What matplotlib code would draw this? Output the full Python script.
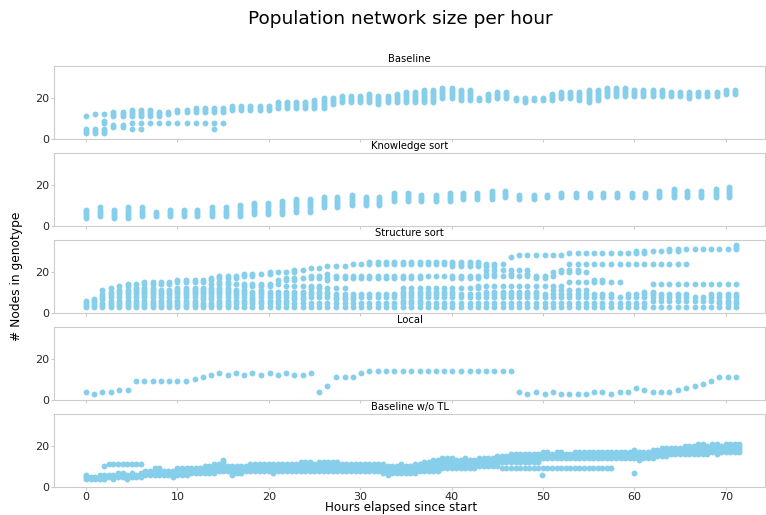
import numpy as np
import matplotlib
matplotlib.use('Agg')
import matplotlib.pyplot as plt

# Baseline: one sample per hour, node counts per hour as "lo-hi" runs
baseline_hours = list(range(72))
baseline_cols = [
    "3-5,11", "3-5,12", "3-5,8-9,12", "6-7,11-13", "6-7,11-13", "5,8,11-14",
    "5,8,11-14", "8,11-14", "8,11-13", "8,12-13", "8,13-14", "8,13-14",
    "8,13-15", "8,13-15", "5,8,13-15", "8,13-15", "14-16", "14-16",
    "14-16", "14-16", "14-16", "15-18", "15-18", "15-18",
    "15-18", "15-19", "15-20", "17-20", "18-21", "18-21",
    "18-21", "18-22", "17-21", "18-21", "18-22", "18-23",
    "18-23", "18-24", "18-24", "20-25", "20-25", "19-24",
    "19-24", "19-20", "19-22", "20-23", "20-23", "19-20",
    "18-20", "19-20", "19-20", "19-22", "20-23", "20-23",
    "19-23", "18-24", "19-24", "21-25", "21-25", "21-25",
    "21-24", "21-24", "21-24", "21-24", "21-23", "21-23",
    "20-23", "21-23", "21-23", "21-23", "22-24", "22-24",
]

# Knowledge sort: samples roughly every 1.5 hours
knowledge_hours = [
    0.0, 1.5, 3.1, 4.6, 6.1, 7.7, 9.2, 10.7, 12.2, 13.8, 15.3, 16.8,
    18.4, 19.9, 21.4, 23.0, 24.5, 26.0, 27.5, 29.1, 30.6, 32.1, 33.7, 35.2,
    36.7, 38.3, 39.8, 41.3, 42.8, 44.4, 45.9, 47.4, 49.0, 50.5, 52.0, 53.6,
    55.1, 56.6, 58.1, 59.7, 61.2, 62.7, 64.3, 65.8, 67.3, 68.9, 70.4,
]
knowledge_cols = [
    "4-8", "5-9", "4-8", "4-9", "5-9", "5-7", "5-8", "5-8", "5-8", "5-9",
    "5-9", "5-10", "6-11", "6-11", "6-12", "7-13", "7-13", "9-14", "9-14", "10-15",
    "10-14", "10-14", "12-16", "12-16", "12-15", "12-15", "12-16", "13-16", "13-16", "13-17",
    "14-17", "13-15", "13-15", "14-15", "14-16", "14-16", "14-16", "14-16", "14-16", "14-16",
    "14-16", "14-17", "14-18", "14-17", "14-17", "14-18", "14-19",
]

# Structure sort and Local share the same ~55 minute sampling
fine_hours = [
    0.0, 0.9, 1.8, 2.7, 3.6, 4.6, 5.5, 6.4, 7.3, 8.2, 9.1, 10.0, 10.9,
    11.9, 12.8, 13.7, 14.6, 15.5, 16.4, 17.3, 18.2, 19.2, 20.1, 21.0, 21.9,
    22.8, 23.7, 24.6, 25.5, 26.4, 27.4, 28.3, 29.2, 30.1, 31.0, 31.9, 32.8,
    33.7, 34.7, 35.6, 36.5, 37.4, 38.3, 39.2, 40.1, 41.0, 42.0, 42.9, 43.8,
    44.7, 45.6, 46.5, 47.4, 48.3, 49.2, 50.2, 51.1, 52.0, 52.9, 53.8, 54.7,
    55.6, 56.5, 57.5, 58.4, 59.3, 60.2, 61.1, 62.0, 62.9, 63.8, 64.8, 65.7,
    66.6, 67.5, 68.4, 69.3, 70.2, 71.1,
]
structure_cols = [
    "3-6", "3-7", "3-5,7-9,11", "3-6,8-10,12", "3-6,8-11,13", "3-6,8-11,13-14",
    "3-6,8-12,14", "3-6,8-12,14-15", "3-6,8-12,14-15", "3-6,8-11,14-15",
    "3-6,8-11,14-15", "3-6,8-12,15-16", "3-6,8-12,15-16", "3-6,8-12,15-16",
    "3-5,7-12,15-16", "3-5,7-12,14,16-17", "3-6,8-12,14-15,17-18",
    "3-6,8-12,14-15,17-18", "3,5-6,8-11,14,17-18", "3,5-6,8-11,13-14,18-19",
    "3,5-10,13-14,18-19", "3,5-6,8-11,13-14,19", "3,5-6,8-10,13-14,19-20",
    "3,5-6,8-10,14,16,20", "3,5-6,8-10,13,16-17,20", "3,5,7-10,13,16-17,20-21",
    "3,5,7-10,13,17,21", "3,5,8-10,12-13,17-18,22", "3,5,8-10,12-13,17-18,22",
    "3,5,8-10,12,16-17,19,23", "3,5,7-9,12,17-18,23", "3,5,7-9,12,17-18,23",
    "3,5,7-9,17-18,24", "3,5,8-9,17-18,24", "3,5,8-9,17-18,24-25",
    "3,5,8-9,17-18,24-25", "3,5,8-9,17-18,24-25", "3,5,8-9,17-18,24-25",
    "3,5-6,8-10,12,17-18,24-25", "3,5-6,8-10,12,17-18,24-25", "3,5-6,8-10,12,17-18,24-25",
    "3,5,8-10,12,18,24-25", "3,5,8-10,12,18,24-25", "3,5,8-10,12,18,24-25",
    "3,5,8-10,12,17-18,23-25", "3,5,8-9,12,17-18,23-25", "3,5,8-9,12,17-18,23-25",
    "3,5,8-9,12-13,17-18,23-25", "3,5,8-10,13,18-19,21,23-24", "3,5,8-10,13,18-19,21,23-24",
    "3,5,8-10,13,18,21,24", "3,5,8-10,13,18-19,21,27", "3,5,8-10,13,18,21,28",
    "3,5,8-10,13,18-19,21,28", "3,5,8-10,13,17-18,28", "3,5,8-9,13,17-18,28",
    "3,5,8-9,11,13,18,20,28", "3,5,8-9,11,13,20-21,28", "3,5,8-9,11,15,20-21,24,29",
    "3,5,8-9,11,15,20-21,24,29", "3,5,8-9,11,15,20,24,29", "3,5,8-9,15-16,24,29",
    "3,5,8-9,15-16,24,29", "3,5,8-9,15,24,29", "3,5,8,15,24,29",
    "3,5,8-9,24,29", "3,5,8-9,24,29-30", "3,5,8-10,24,29-30",
    "3,6,8-10,14,24,30", "3,6,8-9,14,24,30", "3,6,8-9,14,24,30-31",
    "3,6,8-9,14,24,30-31", "3,6,8-9,14,24,31", "3,6,8,14,31",
    "3,6,8,14,31", "3,6,8-9,14,31", "3,5-6,8-9,14,31",
    "3,5-6,8-9,14,31", "3,5-6,8-9,14,31-33",
]
local_nodes = [
    4, 3, 4, 4, 5, 5, 9, 9, 9, 9, 9, 9, 9, 10, 11, 12, 13, 12, 13, 12,
    13, 12, 13, 12, 13, 12, 12, 13, 4, 7, 11, 11, 11, 13, 14, 14, 14, 14, 14, 14,
    14, 14, 14, 14, 14, 14, 14, 14, 14, 14, 14, 14, 4, 3, 4, 3, 4, 3, 3, 3,
    3, 4, 4, 3, 4, 4, 6, 5, 4, 4, 4, 5, 6, 7, 8, 9, 11, 11, 11,
]

# Baseline w/o TL: half-hourly band (lowest / highest network size)
notl_hours = [
    0.0, 0.5, 1.0, 1.5, 2.0, 2.5, 3.0, 3.5, 4.0, 4.5, 5.0, 5.5, 6.0, 6.5, 7.0, 7.5,
    8.0, 8.5, 9.0, 9.5, 10.0, 10.5, 11.0, 11.5, 12.0, 12.5, 13.0, 13.5, 14.0, 14.5, 15.0, 15.5,
    16.0, 16.5, 17.0, 17.5, 18.0, 18.5, 19.0, 19.5, 20.0, 20.5, 21.0, 21.5, 22.0, 22.5, 23.0, 23.5,
    24.0, 24.5, 25.0, 25.5, 26.0, 26.5, 27.0, 27.5, 28.0, 28.5, 29.0, 29.5, 30.0, 30.5, 31.0, 31.5,
    32.0, 32.5, 33.0, 33.5, 34.0, 34.5, 35.0, 35.5, 36.0, 36.5, 37.0, 37.5, 38.0, 38.5, 39.0, 39.5,
    40.0, 40.5, 41.0, 41.5, 42.0, 42.5, 43.0, 43.5, 44.0, 44.5, 45.0, 45.5, 46.0, 46.5, 47.0, 47.5,
    48.0, 48.5, 49.0, 49.5, 50.0, 50.5, 51.0, 51.5, 52.0, 52.5, 53.0, 53.5, 54.0, 54.5, 55.0, 55.5,
    56.0, 56.5, 57.0, 57.5, 58.0, 58.5, 59.0, 59.5, 60.0, 60.5, 61.0, 61.5, 62.0, 62.5, 63.0, 63.5,
    64.0, 64.5, 65.0, 65.5, 66.0, 66.5, 67.0, 67.5, 68.0, 68.5, 69.0, 69.5, 70.0, 70.5, 71.0, 71.5,
]
notl_low = [
    4, 4, 4, 4, 4, 5, 4, 5, 5, 4, 5, 5, 5, 6, 6, 6,
    6, 6, 6, 5, 6, 6, 6, 7, 7, 7, 7, 7, 7, 8, 8, 8,
    6, 7, 7, 8, 8, 8, 8, 8, 8, 7, 8, 8, 8, 8, 8, 8,
    8, 8, 8, 8, 8, 8, 8, 8, 8, 8, 8, 8, 8, 8, 8, 8,
    8, 7, 6, 7, 7, 7, 7, 7, 7, 8, 8, 8, 8, 8, 9, 9,
    9, 9, 9, 9, 9, 9, 10, 10, 10, 10, 10, 12, 12, 12, 12, 12,
    12, 12, 12, 12, 14, 14, 14, 14, 14, 14, 14, 14, 14, 14, 14, 14,
    14, 14, 14, 14, 14, 14, 14, 14, 14, 13, 14, 14, 14, 15, 15, 15,
    16, 16, 16, 16, 16, 16, 16, 16, 16, 17, 16, 17, 17, 17, 17, 17,
]
notl_high = [
    6, 5, 5, 6, 6, 6, 6, 7, 7, 6, 7, 6, 7, 8, 8, 9,
    9, 8, 8, 8, 9, 9, 9, 9, 9, 9, 10, 10, 11, 11, 13, 10,
    10, 10, 10, 10, 11, 11, 11, 11, 11, 11, 11, 11, 11, 11, 11, 12,
    12, 12, 11, 12, 12, 12, 12, 12, 11, 11, 11, 11, 11, 11, 11, 11,
    11, 11, 10, 10, 10, 11, 10, 10, 11, 11, 12, 12, 13, 13, 14, 14,
    14, 13, 13, 14, 13, 13, 14, 14, 14, 14, 15, 15, 15, 16, 16, 16,
    16, 16, 16, 16, 17, 17, 16, 17, 17, 16, 16, 17, 17, 17, 17, 17,
    17, 17, 17, 17, 17, 17, 17, 17, 18, 17, 17, 17, 18, 18, 19, 19,
    19, 19, 19, 20, 20, 20, 21, 21, 20, 21, 21, 20, 21, 21, 21, 21,
]
# detached runs and stragglers outside the main band
notl_extra_hours = [2.0, 2.5, 3.0, 3.5, 4.0, 4.5, 5.0, 5.5, 6.0,
                    45.5, 46.0, 46.5, 47.0, 47.5, 48.0, 48.5, 49.0, 49.5, 50.0, 50.5,
                    51.0, 51.5, 52.0, 52.5, 53.0, 53.5, 54.0, 54.5, 55.0, 55.5, 56.0,
                    56.5, 57.0, 57.5, 49.9, 60.0]
notl_extra_nodes = [10, 11, 11, 11, 11, 11, 11, 11, 11,
                    9, 9, 9, 9, 9, 9, 9, 9, 9, 9, 9,
                    9, 9, 9, 9, 9, 9, 9, 9, 9, 9, 9,
                    9, 9, 9, 6, 7]

panel_titles = ['Baseline', 'Knowledge sort', 'Structure sort', 'Local', 'Baseline w/o TL']
x_ticks = [0, 10, 20, 30, 40, 50, 60, 70]
y_ticks = [0, 20]


def parse_runs(text):
    # "3-5,8,11-13" -> [3, 4, 5, 8, 11, 12, 13]
    values = []
    for part in text.split(','):
        if '-' in part:
            lo, hi = part.split('-')
            values.extend(range(int(lo), int(hi) + 1))
        else:
            values.append(int(part))
    return values


def expand(hours, cols):
    xs, ys = [], []
    for h, col in zip(hours, cols):
        for v in parse_runs(col):
            xs.append(h)
            ys.append(v)
    return xs, ys


def band(hours, low, high):
    xs, ys = [], []
    for h, lo, hi in zip(hours, low, high):
        for v in range(lo, hi + 1):
            xs.append(h)
            ys.append(v)
    return xs, ys


notl_x, notl_y = band(notl_hours, notl_low, notl_high)
panels = [
    expand(baseline_hours, baseline_cols),
    expand(knowledge_hours, knowledge_cols),
    expand(fine_hours, structure_cols),
    (fine_hours, local_nodes),
    (notl_x + notl_extra_hours, notl_y + notl_extra_nodes),
]

fig, axes = plt.subplots(5, 1, figsize=(7.66, 5.15), dpi=100, sharex=True, sharey=True)
fig.subplots_adjust(left=0.0705, right=0.9987, top=0.8718, bottom=0.0544, hspace=0.192)

for ax, title, (xs, ys) in zip(axes, panel_titles, panels):
    ax.scatter(xs, ys, s=18, color='skyblue', linewidths=0)
    ax.set_title(title, fontsize=7.2, pad=3)
    for spine in ax.spines.values():
        spine.set_color('#cccccc')
    ax.tick_params(colors='#cccccc', labelcolor='#262626', labelsize=8, length=2, pad=1.5)

axes[0].set_xlim(-3.5, 74.3)
axes[0].set_ylim(0, 35.5)
axes[0].set_xticks(x_ticks)
axes[0].set_yticks(y_ticks)

fig.suptitle('Population network size per hour', fontsize=13.3, x=0.523, y=0.963, va='center')
fig.supxlabel('Hours elapsed since start', fontsize=8.6, x=0.523, y=0.0136, va='center')
fig.supylabel('# Nodes in genotype', fontsize=8.8, x=0.022, y=0.463, va='center', ha='center')

fig.savefig('out.png', dpi=100)
